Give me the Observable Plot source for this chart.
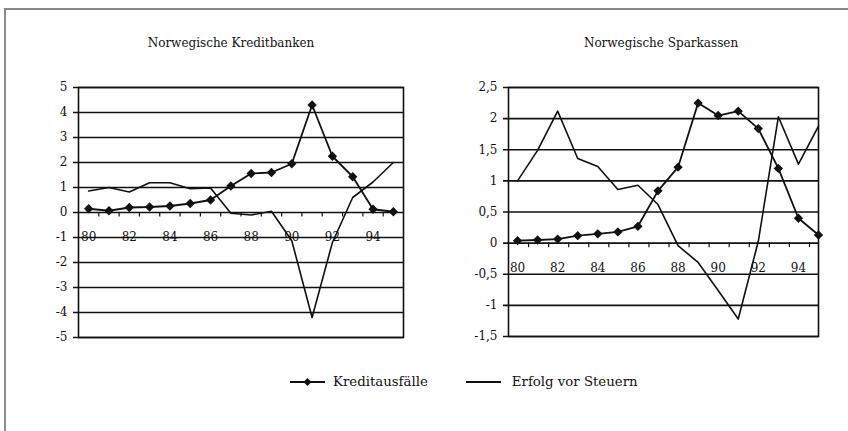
<!DOCTYPE html>
<html>
<head>
<meta charset="utf-8">
<script src="https://cdn.jsdelivr.net/npm/d3@7"></script>
<script src="https://cdn.jsdelivr.net/npm/@observablehq/plot@0.6"></script>
<style>
  html, body { margin: 0; padding: 0; background: #fff; }
  #wrap { position: relative; width: 848px; height: 431px; overflow: hidden; font-family: "DejaVu Serif", serif; color: #111; }
  #border { position: absolute; left: 4px; top: 8px; width: 860px; height: 440px; border-left: 2px solid #8a8a8a; border-top: 2px solid #8a8a8a; }
  .title { position: absolute; top: 36px; font-size: 12px; text-align: center; width: 300px; }
  .plot { position: absolute; top: 0; }
  #legend { position: absolute; top: 374px; left: 290px; font-size: 13.3px; display: flex; align-items: center; white-space: nowrap; }
</style>
</head>
<body>
<div id="wrap">
  <div id="border"></div>
  <div class="title" style="left:81px">Norwegische Kreditbanken</div>
  <div class="title" style="left:511px">Norwegische Sparkassen</div>
  <div id="left" class="plot" style="left:0px"></div>
  <div id="right" class="plot" style="left:424px"></div>
  <div id="legend"></div>
</div>
<script>
const years = [80,81,82,83,84,85,86,87,88,89,90,91,92,93,94,95];
const xLabels = [80,82,84,86,88,90,92,94];

// Norwegische Kreditbanken
const kbKredit = [0.15,0.07,0.2,0.22,0.26,0.36,0.5,1.06,1.56,1.6,1.95,4.3,2.25,1.43,0.13,0.03];
const kbErfolg = [0.86,1.0,0.82,1.19,1.19,0.95,0.98,-0.03,-0.1,0.05,-1.13,-4.2,-1.2,0.6,1.22,2.0];
const kbTicks = [5,4,3,2,1,0,-1,-2,-3,-4,-5];

// Norwegische Sparkassen
const skKredit = [0.04,0.05,0.065,0.12,0.15,0.18,0.27,0.84,1.22,2.25,2.05,2.12,1.84,1.2,0.4,0.13];
const skErfolg = [1.0,1.49,2.12,1.36,1.23,0.86,0.93,0.62,-0.04,-0.31,-0.76,-1.22,0.03,2.03,1.27,1.88];
const skTicks = [2.5,2,1.5,1,0.5,0,-0.5,-1,-1.5];

const legendNames = ["Kreditausfälle", "Erfolg vor Steuern"];

const ink = "#111";
const fmt = d => String(d).replace(".", ",");

function chart(opts) {
  const h = 431 - opts.margins[2] - opts.margins[3];
  const w = opts.width - opts.margins[0] - opts.margins[1];
  const perUnitY = h / (opts.yDomain[1] - opts.yDomain[0]);
  const perUnitX = w / (opts.xDomain[1] - opts.xDomain[0]);
  const tickLen = 4.5 / perUnitY;
  const leftExt = 5 / perUnitX;
  const bounds = d3.range(opts.xDomain[0] + 1, 95.6, 1).filter(b => b < opts.xDomain[1] - 0.01);
  const kData = years.map((y, i) => ({year: y, v: opts.kredit[i]}));
  const eData = years.map((y, i) => ({year: y, v: opts.erfolg[i]}));
  return Plot.plot({
    width: opts.width, height: 431,
    marginLeft: opts.margins[0], marginRight: opts.margins[1], marginTop: opts.margins[2], marginBottom: opts.margins[3],
    x: {domain: opts.xDomain, axis: null},
    y: {domain: opts.yDomain, axis: null},
    style: {fontFamily: "DejaVu Serif, serif", fontSize: "12px", color: ink, background: "transparent", overflow: "visible"},
    marks: [
      Plot.ruleY(opts.ticks, {y: d => d, x1: opts.xDomain[0] - leftExt, x2: opts.xDomain[1], stroke: ink, strokeWidth: 1.6}),
      Plot.frame({stroke: ink, strokeWidth: 1.6}),
      Plot.ruleX(bounds, {x: d => d, y1: 0, y2: -tickLen, stroke: ink, strokeWidth: 1.2}),
      Plot.text(opts.ticks, {x: opts.xDomain[0], y: d => d, text: fmt, textAnchor: "end", dx: -11, fill: ink}),
      Plot.text(xLabels, {x: d => d, y: 0, text: d => String(d), dy: 25, fill: ink}),
      Plot.line(eData, {x: "year", y: "v", stroke: ink, strokeWidth: 1.6}),
      Plot.line(kData, {x: "year", y: "v", stroke: ink, strokeWidth: 1.8}),
      Plot.dot(kData, {x: "year", y: "v", symbol: "diamond2", r: 4.2, fill: ink, stroke: "none"})
    ]
  });
}

document.getElementById("left").append(chart({
  kredit: kbKredit, erfolg: kbErfolg, ticks: kbTicks, yDomain: [-5, 5], xDomain: [79.5, 95.5],
  margins: [78, 21, 87, 94], width: 424
}));
document.getElementById("right").append(chart({
  kredit: skKredit, erfolg: skErfolg, ticks: skTicks, yDomain: [-1.5, 2.5], xDomain: [79.55, 95],
  margins: [84, 30, 87, 95], width: 424
}));

// Legend
const legend = document.getElementById("legend");
legendNames.forEach((name, i) => {
  const svg = d3.create("svg").attr("width", 35).attr("height", 12).style("margin-right", i === 0 ? "8px" : "11px");
  svg.append("line").attr("x1", 0).attr("x2", 35).attr("y1", 6).attr("y2", 6).attr("stroke", ink).attr("stroke-width", 1.8);
  if (i === 0) svg.append("path").attr("d", d3.symbol(d3.symbolDiamond2, 40)()).attr("transform", "translate(17.5,6)").attr("fill", ink);
  legend.append(svg.node());
  const s = document.createElement("span");
  s.textContent = name;
  s.style.marginRight = i === 0 ? "38px" : "0";
  legend.append(s);
});
</script>
</body>
</html>
